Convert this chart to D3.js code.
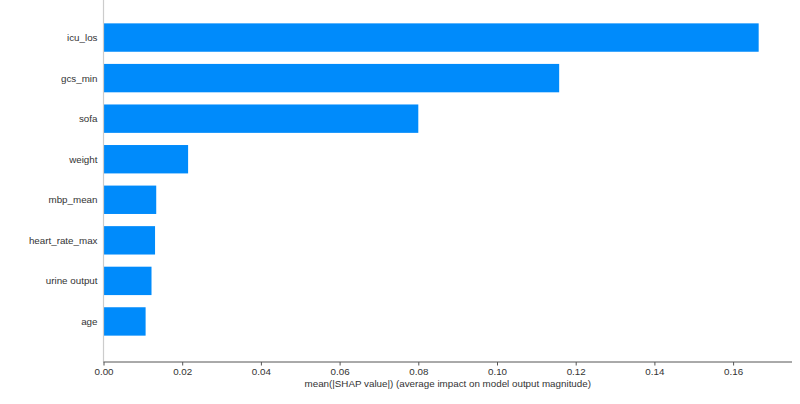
<!DOCTYPE html>
<html><head><meta charset="utf-8">
<script src="https://cdn.jsdelivr.net/npm/d3@7"></script>
<style>body{margin:0;background:#fff}svg{display:block}text{font-family:"Liberation Sans",Arial,sans-serif}</style>
</head><body>
<svg id="c" width="800" height="404"></svg>
<script>
const features = ["icu_los","gcs_min","sofa","weight","mbp_mean","heart_rate_max","urine output","age"];
const values = [0.1665,0.1158,0.0800,0.0215,0.0134,0.0131,0.0122,0.0107];
const xTicks = [0,0.02,0.04,0.06,0.08,0.10,0.12,0.14,0.16];
const xLabel = "mean(|SHAP value|) (average impact on model output magnitude)";

(function(){
const svg = d3.select("#c");
const mLeft = 103.5, mRight = 792, mTop = -3, mBottom = 362;
const x = d3.scaleLinear().domain([0,0.175]).range([mLeft, mLeft + 0.175/0.02*78.7]);
const n = features.length;
const y = d3.scaleLinear().domain([-1, n]).range([mBottom, mTop]);
const barH = (y(0) - y(0.7));

svg.append("g").selectAll("rect").data(features).join("rect")
  .attr("x", x(0))
  .attr("y", (d,i) => y(n-1-i) - barH/2)
  .attr("width", (d,i) => x(values[i]) - x(0))
  .attr("height", barH)
  .attr("fill", "#008bfb");

svg.append("g").selectAll("text").data(features).join("text")
  .attr("x", mLeft - 6)
  .attr("y", (d,i) => y(n-1-i))
  .attr("dy", "0.35em")
  .attr("text-anchor", "end")
  .attr("font-size", 9.8)
  .attr("fill", "#333")
  .text(d => d);

svg.append("line").attr("x1", mLeft).attr("x2", mLeft).attr("y1", 0).attr("y2", mBottom)
  .attr("stroke", "#cccccc").attr("stroke-width", 1.2);

const ax = svg.append("g").attr("transform", `translate(0,${mBottom})`)
  .call(d3.axisBottom(x).tickValues(xTicks).tickFormat(d3.format(".2f")).tickSize(3.5).tickPadding(2.5));
ax.select(".domain").attr("d", `M${mLeft},0H${mRight}`).attr("stroke", "#555").attr("stroke-width", 1);
ax.selectAll(".tick line").attr("stroke", "#555");
ax.selectAll(".tick text").attr("fill", "#333").attr("font-size", 9.8)
  .attr("font-family", '"Liberation Sans",Arial,sans-serif');

svg.append("text").attr("x", (mLeft + mRight)/2).attr("y", 386.5)
  .attr("text-anchor", "middle").attr("font-size", 9.8).attr("fill", "#333").text(xLabel);
})();
</script>
</body></html>
